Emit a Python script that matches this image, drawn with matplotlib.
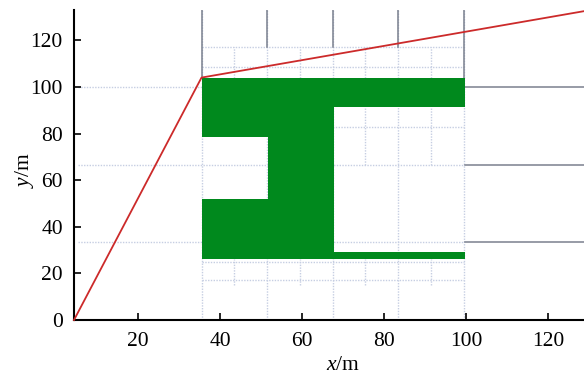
import matplotlib
matplotlib.use("Agg")
import matplotlib.pyplot as plt
from matplotlib.patches import Polygon

plt.rcParams['font.family'] = ['Liberation Serif', 'DejaVu Serif']
plt.rcParams['mathtext.fontset'] = 'custom'
plt.rcParams['mathtext.it'] = 'Liberation Serif:italic'
plt.rcParams['mathtext.rm'] = 'Liberation Serif'

# ---- data ----
x_range = [4.4, 128.8]
y_range = [0, 133]
x_ticks = [20, 40, 60, 80, 100, 120]
y_ticks = [0, 20, 40, 60, 80, 100, 120]

# red boundary line
line_x = [4.4, 35.5, 128.8]
line_y = [0, 104, 132.5]

# green structure outline
shape_x = [35.5, 99.8, 99.8, 67.7, 67.7, 99.8, 99.8, 35.5, 35.5, 51.7, 51.7, 35.5]
shape_y = [104, 104, 91.2, 91.2, 29.3, 29.3, 26.3, 26.3, 52.0, 52.0, 78.3, 78.3]

# background mesh
mesh_coarse_x = [35.5, 51.5, 67.5, 83.5, 99.5]
mesh_mid_x = [43.5, 59.5, 75.5, 91.5]
mesh_coarse_y = [100, 66.7, 33.3]
mesh_fine_y = [117.3, 108.6, 83.0, 25.0, 17.0]

fig = plt.figure(figsize=(5.84, 3.75), dpi=100)
ax = fig.add_axes([74/584, 55/375, 510/584, 310/375])

light = dict(color='#c6cee2', lw=1.0, ls=(0, (1, 1)), zorder=1)
dark = dict(color='#7a808e', lw=1.1, zorder=1.5)

# light mesh lines
for yy in mesh_coarse_y:
    ax.plot([x_range[0] + 1, mesh_coarse_x[-1]], [yy, yy], **light)
for yy in mesh_fine_y:
    ax.plot([mesh_coarse_x[0], mesh_coarse_x[-1]], [yy, yy], **light)
for xx in mesh_coarse_x:
    ax.plot([xx, xx], [0, y_range[1]], **light)
for xx in mesh_mid_x:
    ax.plot([xx, xx], [104, 117.3], **light)
    ax.plot([xx, xx], [15, 26.3], **light)
for xx in mesh_mid_x[2:]:
    ax.plot([xx, xx], [66.7, 91.2], **light)

# dark mesh lines
for xx in mesh_coarse_x[1:-1]:
    ax.plot([xx, xx], [117.3, y_range[1]], **dark)
for xx in (mesh_coarse_x[0], mesh_coarse_x[-1]):
    ax.plot([xx, xx], [104, y_range[1]], **dark)
for yy in mesh_coarse_y:
    ax.plot([mesh_coarse_x[-1] + 0.3, x_range[1]], [yy, yy], **dark)

# green structure
ax.add_patch(Polygon(list(zip(shape_x, shape_y)), closed=True,
                     facecolor='#00891d', edgecolor='none', zorder=3))

# red line
ax.plot(line_x, line_y, color='#cc2a2a', lw=1.3, zorder=4, clip_on=False)

ax.set_xlim(*x_range)
ax.set_ylim(*y_range)
ax.set_xticks(x_ticks)
ax.set_yticks(y_ticks)
ax.tick_params(direction='in', length=5, width=1.2, labelsize=15.5)
ax.tick_params(axis='x', pad=9)
ax.tick_params(axis='y', pad=8)
for s in ('top', 'right'):
    ax.spines[s].set_visible(False)
for s in ('left', 'bottom'):
    ax.spines[s].set_linewidth(1.5)

fig.text(343/584, 1 - 366/375, r'$x$/m', fontsize=15.5, ha='center', va='center')
fig.text(24/584, 1 - 170/375, r'$y$/m', fontsize=15.5, ha='center', va='center',
         rotation=90)

fig.savefig('out.png', dpi=100)
